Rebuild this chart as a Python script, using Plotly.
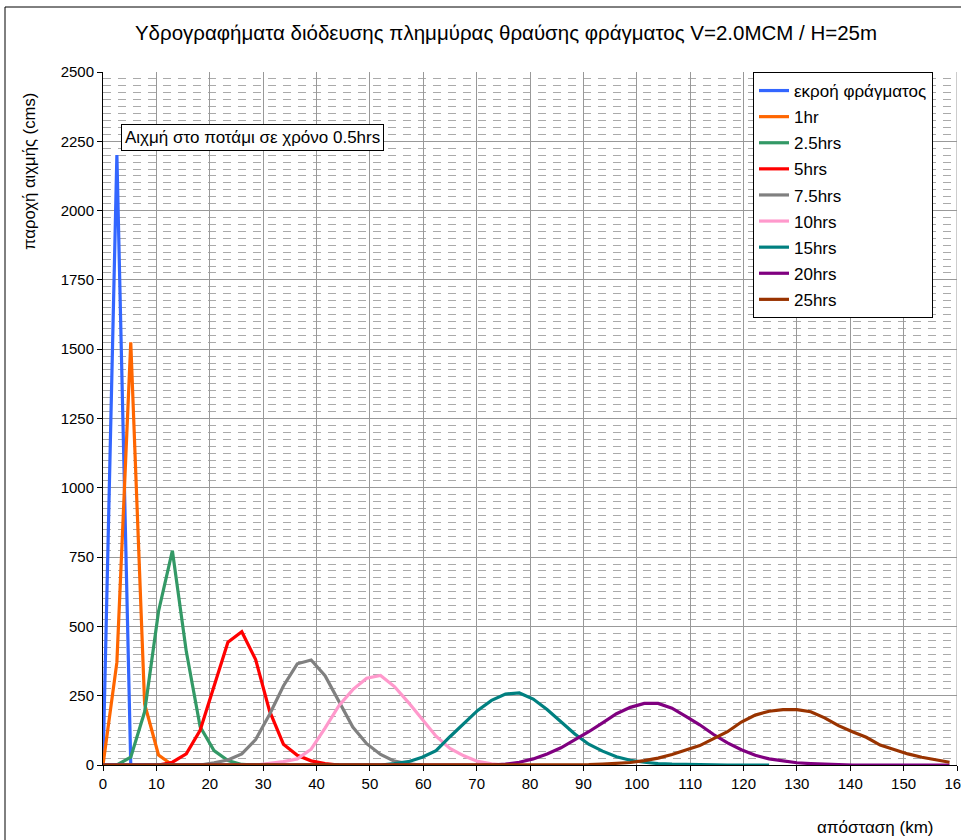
import plotly.graph_objects as go

# Distance of each computational cross-section downstream of the dam (km)
distance_km = [
    0.0, 2.6, 5.2, 7.8, 10.4, 13.0, 15.6, 18.2, 20.8, 23.4,
    26.0, 28.6, 31.2, 33.8, 36.4, 39.0, 41.6, 44.2, 46.8, 49.4,
    52.0, 54.6, 57.2, 59.8, 62.4, 65.0, 67.6, 70.2, 72.8, 75.4,
    78.0, 80.6, 83.2, 85.8, 88.4, 91.0, 93.6, 96.2, 98.8, 101.4,
    104.0, 106.6, 109.2, 111.8, 114.4, 117.0, 119.6, 122.2, 124.8, 127.4,
    130.0, 132.6, 135.2, 137.8, 140.4, 143.0, 145.6, 148.2, 150.8, 153.4,
    156.0, 158.6,
]

# Peak discharge along the river (cms), one list per time step
q_outflow = [0, 2200, 0]
q_1hr = [0, 370, 1525, 220, 36, 0]
q_2_5hrs = [0, 0, 28, 192, 554, 773, 410, 138, 52, 16, 2, 0]
q_5hrs = [0, 0, 0, 0, 0, 10, 40, 125, 280, 443,
          481, 380, 195, 75, 35, 15, 5, 0]
q_7_5hrs = [0, 0, 0, 0, 0, 0, 0, 0, 8, 18,
            40, 92, 182, 285, 365, 379, 322, 230, 137, 77,
            38, 14, 4, 0]
q_10hrs = [0, 0, 0, 0, 0, 0, 0, 0, 0, 0,
           0, 0, 6, 12, 22, 57, 133, 214, 272, 313,
           323, 283, 226, 163, 104, 60, 33, 13, 4, 0]
q_15hrs = [0, 0, 0, 0, 0, 0, 0, 0, 0, 0,
           0, 0, 0, 0, 0, 0, 0, 0, 0, 0,
           0, 5, 12, 28, 52, 102, 151, 197, 233, 256,
           260, 238, 200, 157, 112, 75, 50, 30, 17, 10,
           5, 3, 2, 0, 0, 0, 0, 0, 0]
q_20hrs = [0, 0, 0, 0, 0, 0, 0, 0, 0, 0,
           0, 0, 0, 0, 0, 0, 0, 0, 0, 0,
           0, 0, 0, 0, 0, 0, 0, 0, 0, 3,
           10, 22, 40, 62, 90, 120, 152, 185, 208, 222,
           222, 205, 175, 145, 110, 80, 55, 35, 22, 14,
           8, 5, 2, 1, 0, 0, 0, 0, 0, 0,
           0, 0]
q_25hrs = [0, 0, 0, 0, 0, 0, 0, 0, 0, 0,
           0, 0, 0, 0, 0, 0, 0, 0, 0, 0,
           0, 0, 0, 0, 0, 0, 0, 0, 0, 0,
           0, 0, 0, 0, 0, 1, 3, 5, 9, 16,
           25, 38, 55, 70, 95, 120, 155, 180, 194, 200,
           200, 192, 170, 142, 120, 100, 72, 55, 40, 28,
           18, 10]

series_names = ["εκροή φράγματος", "1hr", "2.5hrs", "5hrs", "7.5hrs",
                "10hrs", "15hrs", "20hrs", "25hrs"]
series_values = [q_outflow, q_1hr, q_2_5hrs, q_5hrs, q_7_5hrs,
                 q_10hrs, q_15hrs, q_20hrs, q_25hrs]
series_colors = ["#3366FF", "#FF6600", "#339966", "#FF0000", "#808080",
                 "#FF99CC", "#008080", "#800080", "#993300"]

x_ticks = list(range(0, 161, 10))
y_ticks = list(range(0, 2501, 250))

FONT = "Arial, 'Liberation Sans', sans-serif"
GRID = "#999999"

fig = go.Figure()
for name, vals, color in zip(series_names, series_values, series_colors):
    fig.add_trace(go.Scatter(
        x=distance_km[:len(vals)], y=vals, mode="lines", name=name,
        legendgroup=name,
        line=dict(color=color, width=3.2),
    ))

fig.update_layout(
    width=961, height=840,
    margin=dict(l=103, r=4, t=72, b=75, autoexpand=False),
    paper_bgcolor="white", plot_bgcolor="white",
    font=dict(family=FONT, size=15, color="black"),
    title=dict(
        text="Υδρογραφήματα διόδευσης πλημμύρας θραύσης φράγματος V=2.0MCM / H=25m",
        x=506 / 961, xanchor="center", y=1 - 33 / 840, yanchor="middle",
        font=dict(family=FONT, size=20.5, color="black"),
    ),
    showlegend=True,
    legend=dict(
        x=(753 - 103) / 854, xanchor="left", y=1.0, yanchor="top",
        bgcolor="white", bordercolor="black", borderwidth=1,
        font=dict(family=FONT, size=17, color="black"),
        tracegroupgap=1, traceorder="grouped",
    ),
    xaxis=dict(
        range=[0, 160], tickvals=x_ticks, ticktext=[str(v) for v in x_ticks],
        showgrid=True, gridcolor=GRID, gridwidth=1,
        showline=True, linecolor="black", linewidth=1,
        ticks="outside", ticklen=5, tickcolor="black",
        tickfont=dict(size=15), zeroline=False,
        ticklabeloverflow="allow", automargin=False,
    ),
    yaxis=dict(
        range=[0, 2500], tickvals=y_ticks, ticktext=[str(v) for v in y_ticks],
        showgrid=True, gridcolor=GRID, gridwidth=1,
        showline=True, linecolor="black", linewidth=1,
        ticks="outside", ticklen=5, tickcolor="black",
        tickfont=dict(size=15), zeroline=False, automargin=False,
        minor=dict(dtick=25, showgrid=True, gridcolor="#aaaaaa",
                   gridwidth=1, griddash="8px,7px", ticks=""),
    ),
    annotations=[
        dict(text="Αιχμή στο ποτάμι σε χρόνο 0.5hrs",
             xref="paper", yref="paper",
             x=(121 - 103) / 854, y=(765 - 124) / 693,
             xanchor="left", yanchor="top", showarrow=False,
             bgcolor="white", bordercolor="black", borderwidth=1,
             borderpad=3, font=dict(size=17)),
        dict(text="παροχή αιχμής (cms)", textangle=-90,
             xref="paper", yref="paper",
             x=(30 - 103) / 854, y=(765 - 172) / 693,
             xanchor="center", yanchor="middle", showarrow=False,
             font=dict(size=16.7)),
        dict(text="απόσταση (km)",
             xref="paper", yref="paper",
             x=(875 - 103) / 854, y=(765 - 827) / 693,
             xanchor="center", yanchor="middle", showarrow=False,
             font=dict(size=17)),
    ],
    shapes=[
        # outer chart frame
        dict(type="rect", xref="paper", yref="paper",
             x0=(5 - 103) / 854, x1=(966 - 103) / 854,
             y0=(765 - 846) / 693, y1=(765 - 7) / 693,
             line=dict(color="black", width=1), fillcolor="rgba(0,0,0,0)",
             layer="below"),
        # right edge of the plot area
        dict(type="line", xref="x", yref="paper",
             x0=160, x1=160, y0=0, y1=1,
             line=dict(color=GRID, width=1), layer="below"),
    ],
)

fig.write_html("out.html")
